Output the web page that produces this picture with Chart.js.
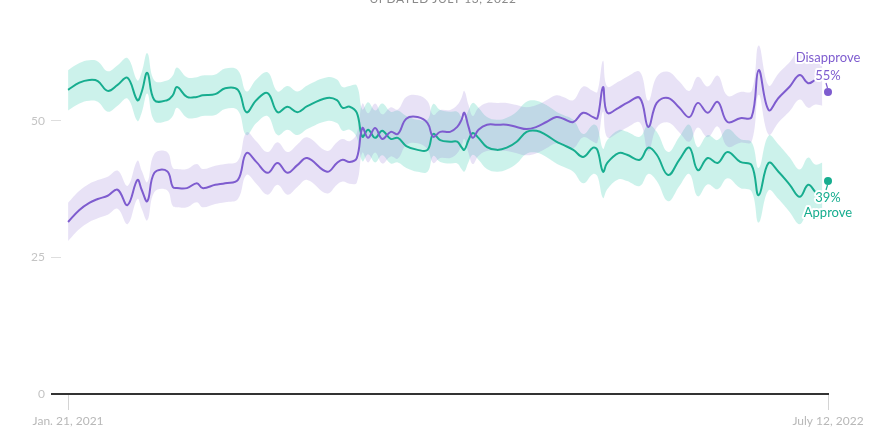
<!DOCTYPE html>
<html><head><meta charset="utf-8">
<script src="https://cdn.jsdelivr.net/npm/chart.js@4/dist/chart.umd.min.js"></script>
<style>
html,body{margin:0;padding:0;background:#fff;overflow:hidden}
#wrap{position:relative;width:886px;height:444px}
#upd{position:absolute;left:0;width:886px;top:-7px;line-height:12px;text-align:center;font-family:Lato,sans-serif;font-size:12px;letter-spacing:0.6px;color:#8a8a8a}
canvas{position:absolute;left:0;top:0}
</style></head><body>
<div id="wrap"><canvas id="c" width="886" height="444"></canvas><div id="upd">UPDATED JULY 13, 2022</div></div>
<script>
// Days since Jan. 21, 2021
const days = [0,8,15,21,28,35,42,49,52,56,61,70,74,77,84,91,95,104,111,120,126,133,141,148,155,162,169,183,190,194,199,204,208,212,217,222,228,233,239,247,254,258,263,270,275,278,280,283,286,290,296,303,310,317,324,331,338,345,350,357,364,371,374,378,381,389,395,404,410,416,424,432,439,445,452,459,466,475,483,488,495,502,510,517,523,528,533];

const approve = [
55.7,57.0,57.5,57.3,55.5,56.6,57.9,53.8,55.3,58.8,
53.8,53.8,54.7,56.2,54.4,54.4,54.7,54.9,56.0,55.7,
51.6,53.8,55.1,51.6,52.6,51.6,52.7,54.2,53.8,52.4,
52.6,51.5,47.1,48.4,46.9,48.2,46.7,46.9,45.4,44.7,
44.7,47.6,46.5,46.2,46.2,45.2,44.7,46.5,47.8,46.9,
45.2,44.7,45.1,46.2,48.0,48.2,47.4,46.2,45.6,44.7,
43.4,45.1,44.7,40.7,42.3,44.1,43.8,42.9,45.1,43.8,
40.1,42.9,45.1,41.0,43.2,42.3,44.3,42.5,41.9,36.4,
42.3,40.7,38.3,36.1,38.3,37.0,37.4];

const disapprove = [
31.5,33.7,35.0,35.7,36.3,37.4,34.6,39.2,37.4,35.3,
40.5,40.8,37.9,37.7,37.7,38.6,37.7,38.3,38.6,39.2,
44.1,42.5,40.5,42.3,40.5,41.9,43.2,40.7,42.3,42.9,
42.5,43.2,48.7,46.9,48.7,46.7,48.0,47.6,50.4,50.7,
49.6,47.1,48.0,48.0,48.9,50.2,51.5,48.9,46.9,48.4,
49.3,49.3,49.3,48.9,48.5,48.9,49.8,50.7,50.4,49.8,
51.5,50.7,50.5,56.2,51.5,52.4,53.3,54.2,48.9,53.3,
54.2,52.4,50.7,53.3,51.5,53.5,49.8,50.5,50.7,59.3,
52.0,54.2,56.3,58.4,56.9,57.5,57.3];

// Uncertainty band margins (above / below the line)
const approveUp = [
3.6,3.6,3.6,3.6,3.6,3.6,3.6,3.6,3.6,3.6,3.6,3.6,3.6,3.6,3.6,3.6,3.6,3.6,3.6,3.6,
3.8,3.8,3.8,3.8,3.8,3.8,3.8,3.8,3.8,3.8,3.8,
5.0,5.0,5.0,5.0,5.0,5.0,5.0,
5.5,5.5,5.5,5.5,5.5,5.5,5.5,5.5,5.5,5.5,5.5,5.5,5.5,5.5,5.5,5.5,5.5,5.5,5.5,5.5,5.5,5.5,
4.2,4.2,4.2,4.2,4.2,4.2,4.2,4.2,4.2,4.2,4.2,4.2,4.2,4.2,4.2,4.2,4.2,4.2,4.2,
5.0,5.0,5.0,5.0,5.0,5.0,5.0,5.0];
const approveDown = [
3.8,3.8,3.8,3.8,3.8,3.8,3.8,3.8,3.8,3.8,3.8,3.8,3.8,3.8,3.8,3.8,3.8,3.8,3.8,3.8,
4.2,4.2,4.2,4.2,4.2,4.2,4.2,4.2,4.2,4.2,4.2,
4.5,4.5,4.5,4.5,4.5,4.5,4.5,
4.0,4.0,4.0,4.0,4.0,4.0,4.0,4.0,4.0,4.0,4.0,4.0,4.0,4.0,4.0,4.0,4.0,4.0,4.0,4.0,4.0,4.0,
4.8,4.8,4.8,4.8,4.8,4.8,4.8,4.8,4.8,4.8,4.8,4.8,4.8,4.8,4.8,4.8,4.8,4.8,4.8,
5.0,5.0,5.0,5.0,5.0,5.0,5.0,5.0];
const disapproveUp = [
3.5,3.5,3.5,3.5,3.5,3.5,3.5,3.5,3.5,3.5,3.5,3.5,3.5,3.5,3.5,3.5,3.5,3.5,3.5,3.5,
3.8,3.8,3.8,3.8,3.8,3.8,3.8,3.8,3.8,3.8,3.8,
4.5,4.5,4.5,4.5,4.5,4.5,4.5,
4.0,4.0,4.0,4.0,4.0,4.0,4.0,4.0,4.0,4.0,4.0,4.0,4.0,4.0,4.0,4.0,4.0,4.0,4.0,4.0,4.0,4.0,
4.8,4.8,4.8,4.8,4.8,4.8,4.8,4.8,4.8,4.8,4.8,4.8,4.8,4.8,4.8,4.8,4.8,4.8,4.8,
4.5,4.5,4.5,4.5,4.5,4.5,4.5,4.5];
const disapproveDown = [
3.5,3.5,3.5,3.5,3.5,3.5,3.5,3.5,3.5,3.5,3.5,3.5,3.5,3.5,3.5,3.5,3.5,3.5,3.5,3.5,
4.0,4.0,4.0,4.0,4.0,4.0,4.0,4.0,4.0,4.0,4.0,
4.5,4.5,4.5,4.5,4.5,4.5,4.5,
4.8,4.8,4.8,4.8,4.8,4.8,4.8,4.8,4.8,4.8,4.8,4.8,4.8,4.8,4.8,4.8,4.8,4.8,4.8,4.8,4.8,4.8,
4.5,4.5,4.5,4.5,4.5,4.5,4.5,4.5,4.5,4.5,4.5,4.5,4.5,4.5,4.5,4.5,4.5,4.5,4.5,
4.5,4.5,4.5,4.5,4.5,4.5,4.5,4.5];

const lastDay = 537;
const lastLineDay = 528;
const currentDisapprove = 55.3;
const currentApprove = 39.0;
const xTickDays = [0, 537];
const xTickLabels = ['Jan. 21, 2021', 'July 12, 2022'];
const yTickValues = [0, 25, 50];

const GREEN = '#17ad8f', PURPLE = '#7e5ccf';
const GREEN_FILL = 'rgba(40,200,170,0.24)', PURPLE_FILL = 'rgba(140,110,210,0.2)';
const FONT = 'Lato, "Source Sans Pro", sans-serif';

const pts = vals => days.map((d, i) => ({x: d, y: vals[i]}));
const linePts = vals => pts(vals).filter(p => p.x <= lastLineDay);
const approveHi = approve.map((v, i) => v + approveUp[i]);
const approveLo = approve.map((v, i) => v - approveDown[i]);
const disapproveHi = disapprove.map((v, i) => v + disapproveUp[i]);
const disapproveLo = disapprove.map((v, i) => v - disapproveDown[i]);

const bandStyle = {type: 'line', borderWidth: 0, borderColor: 'rgba(0,0,0,0)', pointRadius: 0, tension: 0.4, order: 3};

const endLabels = {
  id: 'endLabels',
  afterDatasetsDraw(chart) {
    const ctx = chart.ctx, xs = chart.scales.x, ys = chart.scales.y;
    const x = xs.getPixelForValue(lastDay);
    const yD = ys.getPixelForValue(currentDisapprove);
    const yA = ys.getPixelForValue(currentApprove);
    ctx.save();
    ctx.font = '13px ' + FONT;
    ctx.textAlign = 'center';
    ctx.textBaseline = 'middle';
    ctx.lineJoin = 'round';
    const draw = (t, px, py, c) => {
      ctx.strokeStyle = '#fff'; ctx.lineWidth = 4; ctx.strokeText(t, px, py);
      ctx.fillStyle = c; ctx.fillText(t, px, py);
    };
    draw('Disapprove', x, yD - 34, PURPLE);
    draw(Math.round(currentDisapprove) + '%', x, yD - 16, PURPLE);
    draw(Math.round(currentApprove) + '%', x, yA + 17, GREEN);
    draw('Approve', x, yA + 32, GREEN);
    ctx.lineWidth = 1.2;
    ctx.strokeStyle = PURPLE;
    ctx.beginPath(); ctx.moveTo(x - 2, yD - 9); ctx.lineTo(x - 0.5, yD - 4); ctx.stroke();
    ctx.strokeStyle = GREEN;
    ctx.beginPath(); ctx.moveTo(x - 0.5, yA + 4); ctx.lineTo(x - 2, yA + 9); ctx.stroke();
    ctx.restore();
  }
};

new Chart(document.getElementById('c'), {
  type: 'line',
  data: {
    datasets: [
      {data: [{x: lastDay, y: currentDisapprove}, {x: lastDay, y: currentApprove}], type: 'scatter',
       pointRadius: 4, pointBorderWidth: 0, pointBackgroundColor: [PURPLE, GREEN], showLine: false, order: 0, clip: false},
      {label: 'Disapprove', data: linePts(disapprove), borderColor: PURPLE, borderWidth: 2, pointRadius: 0, tension: 0.4, fill: false, order: 1},
      {label: 'Approve', data: linePts(approve), borderColor: GREEN, borderWidth: 2, pointRadius: 0, tension: 0.4, fill: false, order: 2},
      Object.assign({data: pts(disapproveHi), fill: {target: 4}, backgroundColor: PURPLE_FILL}, bandStyle),
      Object.assign({data: pts(disapproveLo), fill: false}, bandStyle),
      Object.assign({data: pts(approveHi), fill: {target: 6}, backgroundColor: GREEN_FILL}, bandStyle),
      Object.assign({data: pts(approveLo), fill: false}, bandStyle)
    ]
  },
  options: {
    responsive: false,
    animation: false,
    layout: {padding: {top: 39, right: 58, left: 0, bottom: 0}},
    plugins: {legend: {display: false}, tooltip: {enabled: false}, title: {display: false}},
    scales: {
      x: {
        type: 'linear', min: -5, max: lastDay,
        afterBuildTicks: s => { s.ticks = xTickDays.map(v => ({value: v})); },
        afterFit: s => { s.height = 50; },
        ticks: {autoSkip: false, maxRotation: 0, padding: 4, color: '#b8b8b8', font: {family: FONT, size: 12},
                callback: v => xTickLabels[xTickDays.indexOf(v)]},
        grid: {drawOnChartArea: false, tickLength: 16, color: '#d4d4d4', lineWidth: 1},
        border: {display: true, color: '#333', width: 2}
      },
      y: {
        min: 0, max: 65,
        afterBuildTicks: s => { s.ticks = yTickValues.map(v => ({value: v})); },
        afterFit: s => { s.width = 61; },
        ticks: {padding: 6, color: '#c4c4c4', font: {family: FONT, size: 12}, callback: v => String(v)},
        grid: {drawOnChartArea: false, tickLength: 10,
               color: c => (c.tick && c.tick.value === 0) ? '#333' : '#dedede',
               lineWidth: c => (c.tick && c.tick.value === 0) ? 2 : 1},
        border: {display: false}
      }
    }
  },
  plugins: [endLabels]
});
</script>
</body></html>
